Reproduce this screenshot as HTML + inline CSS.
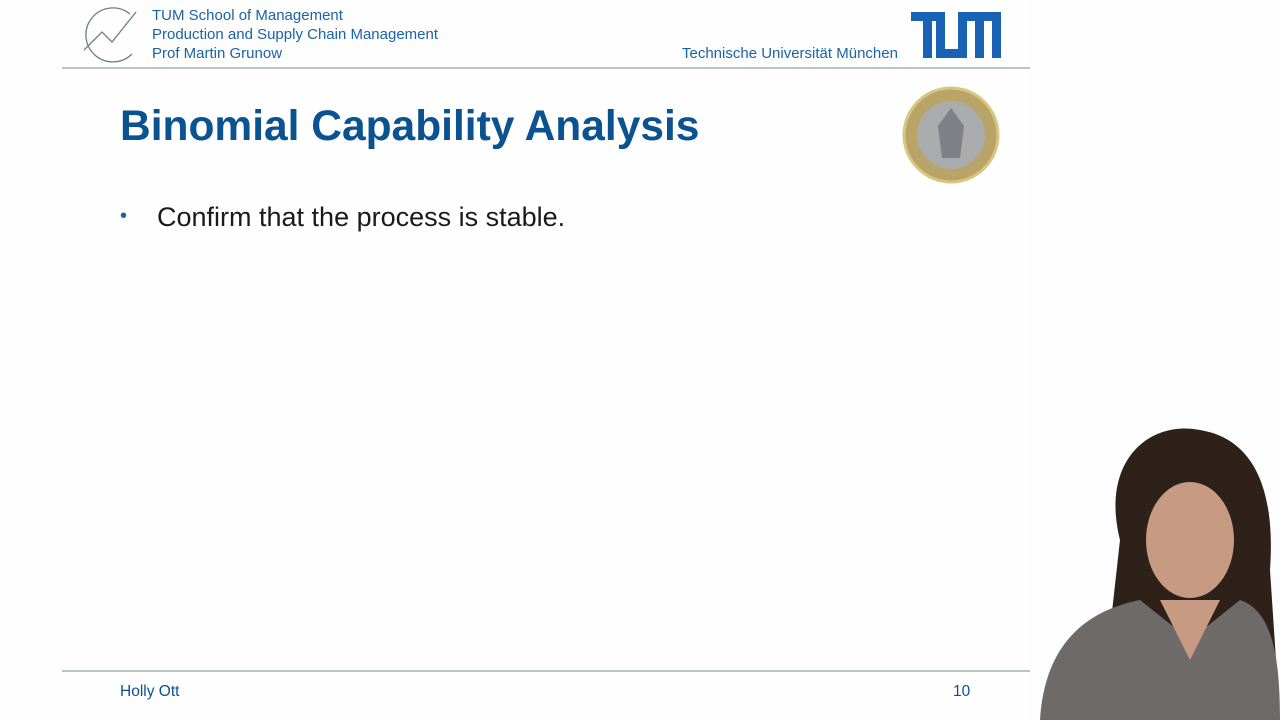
<!DOCTYPE html>
<html><head><meta charset="utf-8"><style>
body{margin:0;width:1280px;height:720px;overflow:hidden;background:#fdfdfd;font-family:"Liberation Sans",sans-serif;position:relative}
.a{position:absolute}
.hd{color:#1a63a8;font-size:15px;line-height:19px}
</style></head><body>
<div class="a" style="left:0;top:0;width:1030px;height:720px;background:#fefefe"></div>
<svg class="a" style="left:80px;top:6px" width="62" height="58" viewBox="0 0 62 58">
<path d="M50 8 A27 27 0 1 0 52 48" fill="none" stroke="#6c7e88" stroke-width="1.3"/>
<path d="M4 44 L22 26 L32 36 L56 6" fill="none" stroke="#6c7e88" stroke-width="1.3"/></svg>
<div class="a hd" style="left:152px;top:6px">TUM School of Management<br>Production and Supply Chain Management<br>Prof Martin Grunow</div>
<div class="a hd" style="left:682px;top:44px">Technische Universität München</div>
<svg class="a" style="left:911px;top:12px" width="90" height="46" viewBox="0 0 90 46" fill="#1a63b4">
<rect x="0" y="0" width="34" height="9"/><rect x="12" y="0" width="9" height="46"/>
<rect x="25" y="0" width="9" height="46"/><rect x="25" y="37" width="31" height="9"/>
<rect x="47" y="0" width="9" height="46"/><rect x="47" y="0" width="43" height="9"/>
<rect x="64" y="0" width="9" height="46"/><rect x="81" y="0" width="9" height="46"/></svg>
<div class="a" style="left:62px;top:67px;width:968px;height:2px;background:#b9c4cc"></div>
<div class="a" style="left:120px;top:103px;font-size:42.5px;font-weight:bold;color:#0b5291">Binomial Capability Analysis</div>
<svg class="a" style="left:902px;top:86px" width="98" height="98">
<circle cx="49" cy="49" r="47" fill="#b9a468" stroke="#d8c680" stroke-width="3"/>
<circle cx="49" cy="49" r="34" fill="#a9abad"/><path d="M49 22 L62 40 L58 72 L40 72 L36 40Z" fill="#7d8084"/></svg>
<div class="a" style="left:120px;top:205px;font-size:20px;color:#1a63a8">•</div>
<div class="a" style="left:157px;top:202px;font-size:27px;color:#1a1a1a">Confirm that the process is stable.</div>
<div class="a" style="left:62px;top:670px;width:968px;height:2px;background:#b9c4cc"></div>
<div class="a hd" style="left:120px;top:682px;color:#0b5291;font-size:15.5px">Holly Ott</div>
<div class="a hd" style="left:953px;top:682px;color:#0b5291;font-size:15.5px">10</div>
<svg class="a" style="left:1030px;top:420px" width="250" height="300">
<path d="M90 120 C70 40 120 0 170 10 C230 20 245 80 240 150 L250 300 L70 300 Z" fill="#2e2119"/>
<ellipse cx="160" cy="120" rx="44" ry="58" fill="#c79a84"/>
<path d="M10 300 C15 220 60 190 110 180 L160 220 L210 180 C240 190 250 230 250 300Z" fill="#6e6a68"/>
<path d="M130 180 L160 240 L190 180Z" fill="#c79a84"/></svg>
</body></html>
